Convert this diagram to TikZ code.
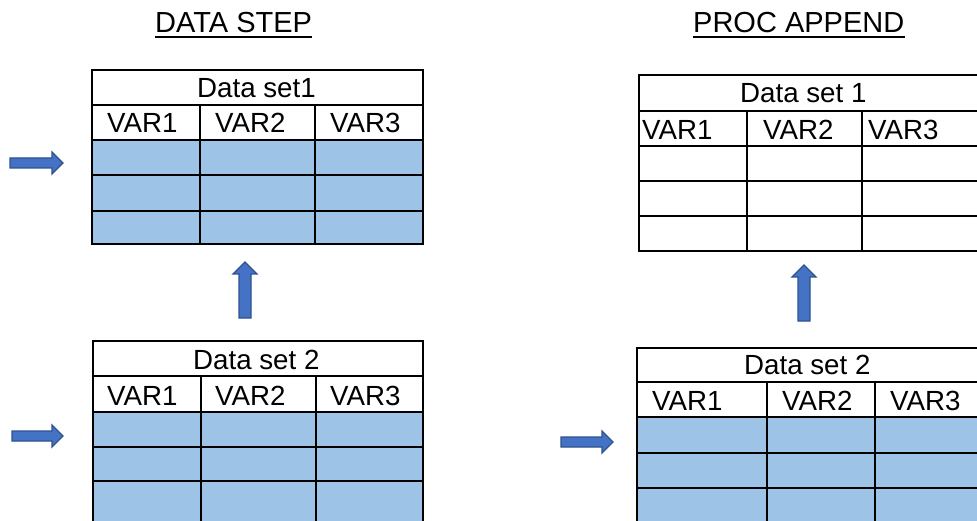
\documentclass[tikz,border=0pt]{standalone}
\usepackage{fontspec}
\setmainfont{Liberation Sans}
\definecolor{cellblue}{HTML}{9DC3E6}
\definecolor{arrfill}{HTML}{4472C4}
\definecolor{arrline}{HTML}{2F528F}
\tikzset{
  tabline/.style={line width=2.8pt, black},
  celltxt/.style={anchor=base west, inner sep=0pt, font=\fontsize{27.7}{30}\selectfont},
  titletxt/.style={anchor=base west, inner sep=0pt, font=\fontsize{29}{32}\selectfont},
  blockarrow/.style={fill=arrfill, draw=arrline, line width=1.3pt, line join=miter},
  bluefill/.style={fill=cellblue}
}
\begin{document}
\begin{tikzpicture}[x=1pt,y=-1pt]
\path[use as bounding box] (0,0) rectangle (977,521);
\clip (0,0) rectangle (977,521);
\fill[white] (0,0) rectangle (977,521);

% titles
\node[titletxt] (t1) at (155,33) {DATA STEP};
\node[titletxt] (t2) at (693,33) {PROC APPEND};
\draw[line width=2pt] ([yshift=-4pt]t1.base west) -- ([yshift=-4pt]t1.base east);
\draw[line width=2pt] ([yshift=-4pt]t2.base west) -- ([yshift=-4pt]t2.base east);

% ---------- left top table ----------
\fill[bluefill] (92,140) rectangle (423,244);
\draw[tabline] (92,70) rectangle (423,244);
\foreach \y in {105,140,175,211} \draw[tabline] (92,\y) -- (423,\y);
\foreach \x in {200,315} \draw[tabline] (\x,105) -- (\x,244);
\node[celltxt] (a0) at (197,98) {Data set1};
\node[celltxt] (a1) at (107,133) {VAR1};
\node[celltxt] (a2) at (215,133) {VAR2};
\node[celltxt] (a3) at (330,133) {VAR3};

% ---------- left bottom table ----------
\fill[bluefill] (93,412) rectangle (423,540);
\draw[tabline] (93,540) -- (93,341) -- (423,341) -- (423,540);
\foreach \y in {376,412,447,481} \draw[tabline] (93,\y) -- (423,\y);
\foreach \x in {201,316} \draw[tabline] (\x,376) -- (\x,540);
\node[celltxt] (b0) at (193,369) {Data set 2};
\node[celltxt] (b1) at (107,405) {VAR1};
\node[celltxt] (b2) at (215,405) {VAR2};
\node[celltxt] (b3) at (330,405) {VAR3};

% ---------- right top table ----------
\draw[tabline] (1000,75) -- (639,75) -- (639,251) -- (1000,251);
\foreach \y in {111,146,181,216} \draw[tabline] (639,\y) -- (1000,\y);
\foreach \x in {747,862} \draw[tabline] (\x,111) -- (\x,251);
\node[celltxt] (c0) at (740,103) {Data set 1};
\node[celltxt] (c1) at (642,140) {VAR1};
\node[celltxt] (c2) at (763,140) {VAR2};
\node[celltxt] (c3) at (868,140) {VAR3};

% ---------- right bottom table ----------
\fill[bluefill] (637,417) rectangle (1000,540);
\draw[tabline] (637,540) -- (637,348) -- (1000,348);
\foreach \y in {382,417,453,488} \draw[tabline] (637,\y) -- (1000,\y);
\foreach \x in {767,875} \draw[tabline] (\x,382) -- (\x,540);
\node[celltxt] (d0) at (744,374) {Data set 2};
\node[celltxt] (d1) at (652,410) {VAR1};
\node[celltxt] (d2) at (782,410) {VAR2};
\node[celltxt] (d3) at (890,410) {VAR3};

% ---------- block arrows ----------
% left top (right-pointing)
\draw[blockarrow] (10,158) -- (52,158) -- (52,152) -- (63,163) -- (52,174) -- (52,168) -- (10,168) -- cycle;
% left bottom
\draw[blockarrow] (12,431) -- (52,431) -- (52,425) -- (63,436) -- (52,447) -- (52,441) -- (12,441) -- cycle;
% right bottom
\draw[blockarrow] (561,437) -- (602,437) -- (602,431) -- (613,442) -- (602,453) -- (602,447) -- (561,447) -- cycle;
% left up arrow
\draw[blockarrow] (239,318) -- (239,274) -- (233,274) -- (245,262) -- (257,274) -- (251,274) -- (251,318) -- cycle;
% right up arrow
\draw[blockarrow] (798,321) -- (798,277) -- (792,277) -- (804,265) -- (816,277) -- (810,277) -- (810,321) -- cycle;
\end{tikzpicture}
\end{document}
